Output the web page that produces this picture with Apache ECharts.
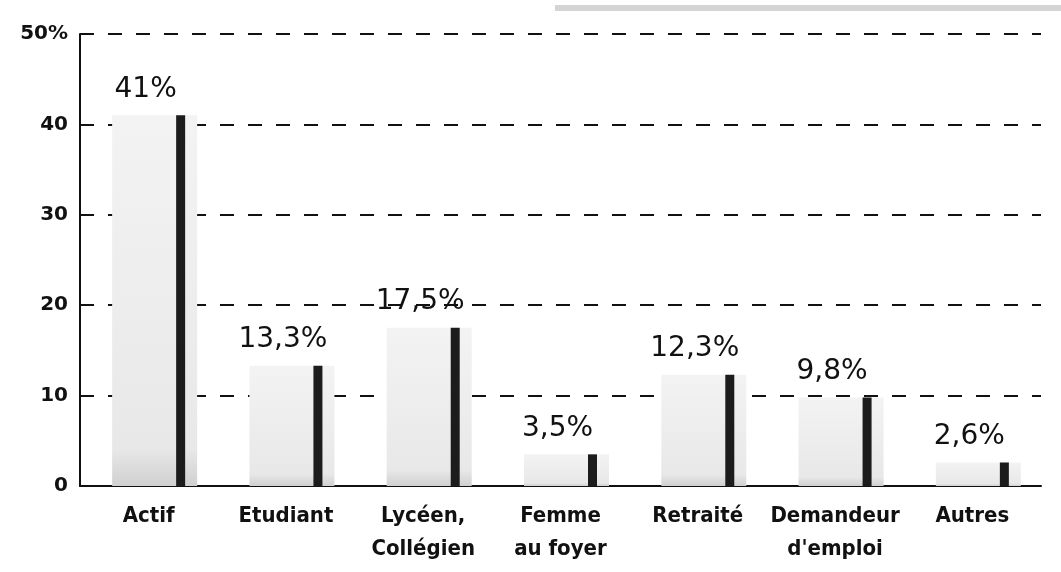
<!DOCTYPE html>
<html>
<head>
<meta charset="utf-8">
<title>Statut</title>
<script src="https://cdn.jsdelivr.net/npm/echarts@6/dist/echarts.min.js"></script>
<style>
  html, body { margin: 0; padding: 0; background: #fff; }
  #chart { width: 1061px; height: 572px; }
</style>
</head>
<body>
<div id="chart"></div>
<script>
// categories and values
var categories = ['Actif', 'Etudiant', 'Lycéen,\nCollégien', 'Femme\nau foyer', 'Retraité', 'Demandeur\nd\'emploi', 'Autres']
var values = [41, 13.3, 17.5, 3.5, 12.3, 9.8, 2.6]
var yTicks = [0, 10, 20, 30, 40, 50]

var chart = echarts.init(document.getElementById('chart'))

function pct(v) {
  return String(v).replace('.', ',') + '%'
}

var option = {
  animation: false,
  grid: {
    left: 80,
    right: 20,
    top: 34,
    bottom: 86,
    containLabel: false,
    outerBoundsMode: 'none'
  },
  graphic: [
    {
      type: 'rect',
      shape: { x: 555, y: 5, width: 506, height: 6 },
      style: { fill: 'rgba(150,150,150,0.4)' },
      silent: true
    }
  ],
  xAxis: {
    type: 'category',
    data: categories,
    axisLine: { lineStyle: { color: '#111', width: 2 } },
    axisTick: { inside: true, length: 7, lineStyle: { color: '#111', width: 2 } },
    axisLabel: {
      color: '#111',
      fontFamily: '"DejaVu Sans Condensed", "DejaVu Sans"',
      fontWeight: 'bold',
      fontSize: 22,
      lineHeight: 33,
      margin: 14,
      interval: 0
    }
  },
  yAxis: {
    type: 'value',
    min: yTicks[0],
    max: yTicks[yTicks.length - 1],
    interval: 10,
    axisLine: { show: true, lineStyle: { color: '#111', width: 2 } },
    axisTick: { show: true, inside: true, length: 9, lineStyle: { color: '#111', width: 2 } },
    axisLabel: {
      color: '#111',
      fontFamily: 'DejaVu Sans',
      fontWeight: 'bold',
      fontSize: 20,
      margin: 12,
      formatter: function(v) {
        return v === 50 ? v + '%' : String(v)
      }
    },
    splitLine: {
      show: true,
      lineStyle: { color: '#111', width: 2, type: [14, 14] }
    }
  },
  series: [
    {
      // grey shaded block
      name: 'fond',
      type: 'bar',
      data: values,
      barWidth: 85,
      barGap: '-24.7%',
      itemStyle: {
        color: new echarts.graphic.LinearGradient(0, 0, 0, 1, [
          { offset: 0, color: '#f3f3f3' },
          { offset: 0.9, color: '#e8e8e8' },
          { offset: 1, color: '#d0d0d0' }
        ])
      },
      label: {
        show: true,
        position: 'top',
        distance: 12,
        offset: [-9, 0],
        color: '#111',
        fontFamily: 'DejaVu Sans',
        fontSize: 28,
        formatter: function(p) { return pct(p.value) }
      }
    },
    {
      // dark thin bar
      name: 'valeur',
      type: 'bar',
      data: values,
      barWidth: 9,
      barGap: '-24.7%',
      itemStyle: { color: '#1c1c1c' }
    }
  ]
}

chart.setOption(option)
</script>
</body>
</html>
